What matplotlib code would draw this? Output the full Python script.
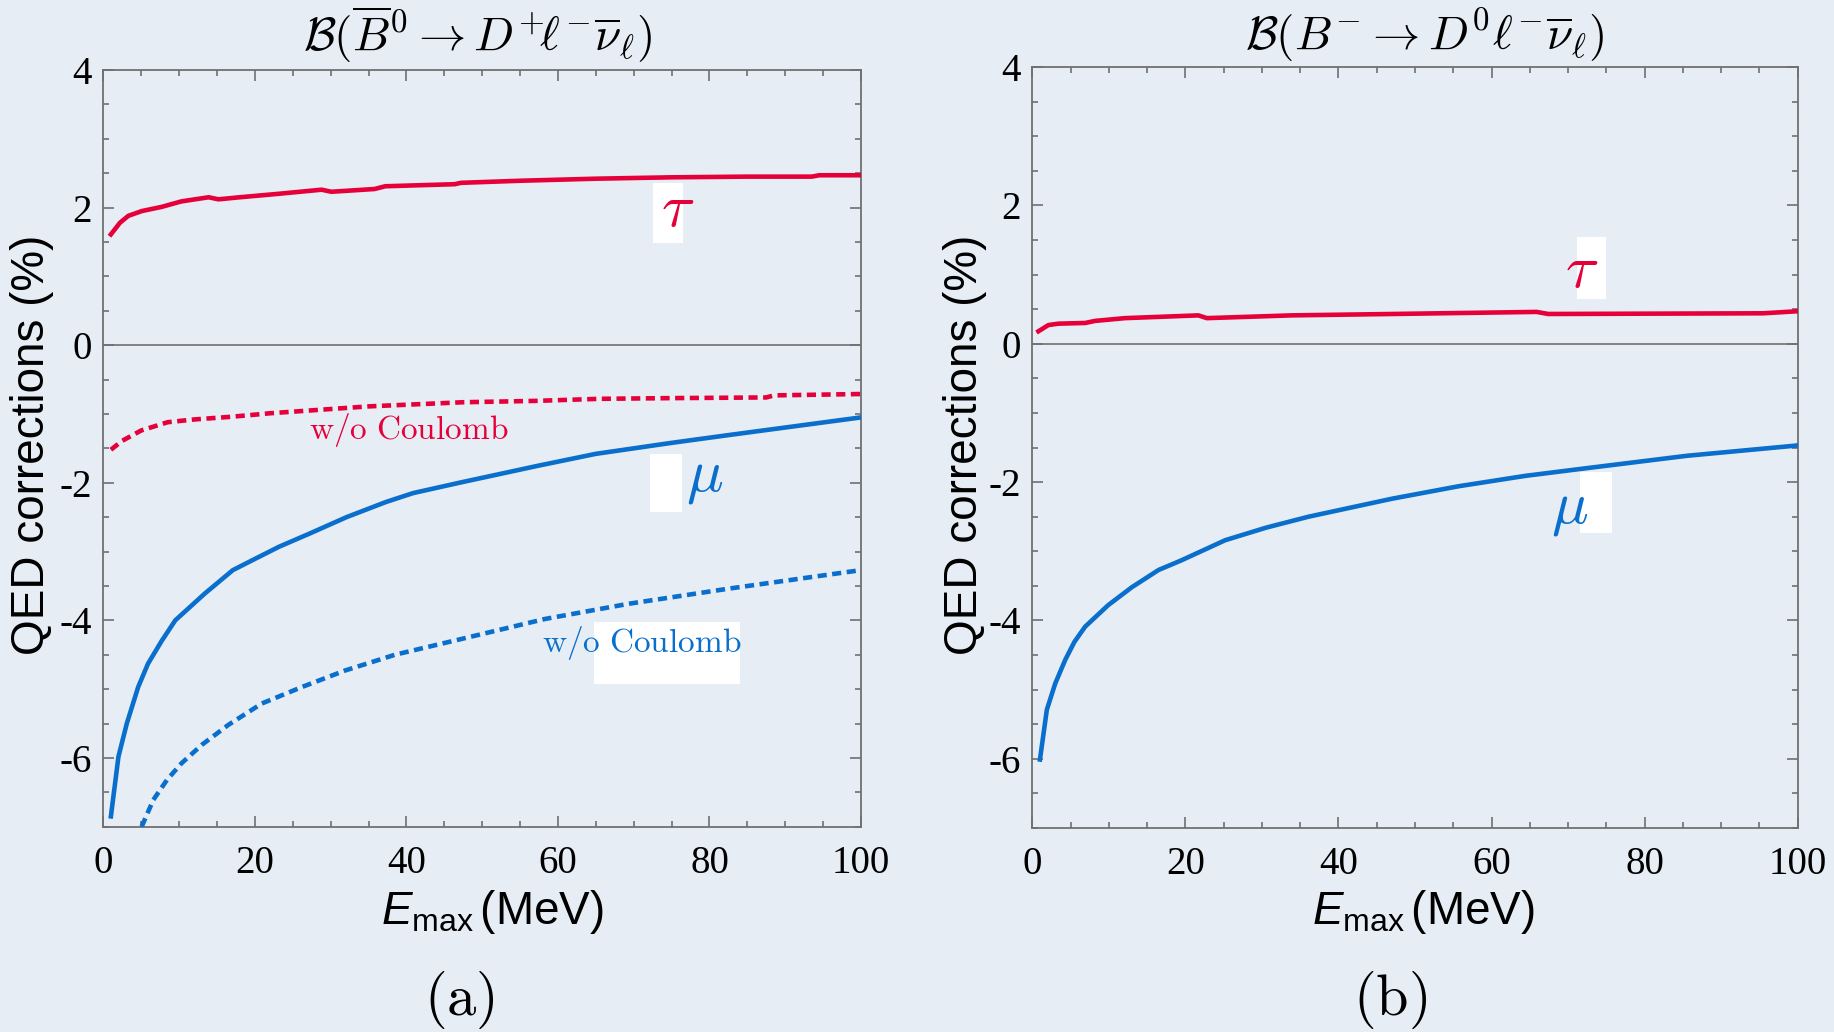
import matplotlib
matplotlib.use("Agg")
import matplotlib.pyplot as plt
from matplotlib.patches import Rectangle
from matplotlib.ticker import MultipleLocator, FuncFormatter

# ---- data ----
# (a) B0bar -> D+ l nu
tau_a_x = [1, 2.2, 3.3, 5.1, 7.7, 10.3, 13.9, 15.2, 18, 23.1, 28.8, 30.1, 35.8, 37.2, 46.4, 47.2, 55, 65, 75, 85, 93.5, 94.5, 100]
tau_a_y = [1.61, 1.78, 1.88, 1.95, 2.01, 2.09, 2.15, 2.12, 2.15, 2.20, 2.26, 2.23, 2.27, 2.31, 2.34, 2.36, 2.39, 2.42, 2.44, 2.45, 2.45, 2.47, 2.47]

tau_a_nc_x = [1, 2.5, 5, 8.5, 12, 17, 22, 27.2, 35, 47.4, 57, 65.5, 74.7, 87.5, 88.5, 100]
tau_a_nc_y = [-1.52, -1.39, -1.24, -1.12, -1.08, -1.04, -0.99, -0.95, -0.89, -0.83, -0.81, -0.78, -0.77, -0.76, -0.73, -0.71]

mu_a_x = [1, 2, 3.1, 4.6, 5.9, 7.7, 9.5, 13.4, 17.1, 19.6, 23.2, 27.2, 32.1, 37.3, 40.9, 47.4, 57.5, 65, 75, 83, 100]
mu_a_y = [-6.85, -5.98, -5.5, -4.97, -4.63, -4.3, -4.0, -3.61, -3.27, -3.13, -2.93, -2.74, -2.5, -2.28, -2.15, -1.99, -1.75, -1.58, -1.42, -1.3, -1.05]

mu_a_nc_x = [5.06, 6.6, 8.4, 10.3, 13.0, 16.5, 20.9, 26.2, 31.9, 38.5, 47.3, 58.3, 69.3, 82.5, 100]
mu_a_nc_y = [-7.0, -6.61, -6.32, -6.08, -5.81, -5.52, -5.21, -4.97, -4.73, -4.5, -4.27, -3.98, -3.76, -3.54, -3.27]

# (b) B- -> D0 l nu
tau_b_x = [0.8, 2.1, 3.4, 6.9, 8.2, 12.1, 21.7, 22.8, 33.9, 47, 65.9, 67.4, 95.5, 100]
tau_b_y = [0.18, 0.27, 0.29, 0.30, 0.33, 0.37, 0.41, 0.37, 0.41, 0.43, 0.46, 0.43, 0.44, 0.47]

mu_b_x = [1.0, 1.9, 3.0, 4.3, 5.5, 6.9, 9.9, 13.0, 16.5, 19.5, 25.2, 30.5, 36.1, 47, 55.7, 64.4, 71.6, 85.5, 100]
mu_b_y = [-6.01, -5.29, -4.91, -4.57, -4.31, -4.09, -3.78, -3.52, -3.27, -3.13, -2.84, -2.66, -2.5, -2.24, -2.06, -1.91, -1.81, -1.62, -1.47]

titles = [r'$\mathcal{B}(\overline{B}^{0} \to D^{+}\!\ell^{-}\overline{\nu}_\ell)$',
          r'$\mathcal{B}(B^{-} \to D^{0}\ell^{-}\overline{\nu}_\ell)$']
panel_tags = [r'$\mathrm{(a)}$', r'$\mathrm{(b)}$']
ylabel = 'QED corrections (%)'
xlabel = r'$E_{\mathrm{max}}\,$(MeV)'

RED = '#e6003a'
BLUE = '#0a6fcc'
BG = '#e6edf5'
GRAY = '#707070'

plt.rcParams['font.family'] = ['Liberation Serif', 'DejaVu Serif']
plt.rcParams['mathtext.fontset'] = 'custom'
plt.rcParams['mathtext.rm'] = 'Liberation Sans'
plt.rcParams['mathtext.it'] = 'Liberation Sans:italic'
plt.rcParams['axes.unicode_minus'] = False
plt.rcParams['axes.formatter.use_mathtext'] = False

fig = plt.figure(figsize=(18.34, 10.32), dpi=100, facecolor=BG)
ax_a = fig.add_axes([0.05633, 0.19893, 0.41314, 0.73324])
ax_b = fig.add_axes([0.56287, 0.19767, 0.41734, 0.73740])

plain = FuncFormatter(lambda v, pos: '%d' % round(v))


def style_axes(ax):
    ax.set_facecolor('none')
    ax.set_xlim(0, 100)
    ax.set_ylim(-7, 4)
    ax.xaxis.set_major_locator(MultipleLocator(20))
    ax.xaxis.set_minor_locator(MultipleLocator(5))
    ax.yaxis.set_major_locator(MultipleLocator(2))
    ax.yaxis.set_minor_locator(MultipleLocator(0.5))
    ax.xaxis.set_major_formatter(plain)
    ax.yaxis.set_major_formatter(plain)
    ax.tick_params(which='both', direction='in', top=True, right=True,
                   color=GRAY, width=1.2)
    ax.tick_params(which='major', length=8, labelsize=28,
                   labelfontfamily='Liberation Serif')
    ax.tick_params(axis='x', which='major', pad=13)
    ax.tick_params(axis='y', which='major', pad=8)
    ax.tick_params(which='minor', length=4.5)
    for sp in ax.spines.values():
        sp.set_color(GRAY)
        sp.set_linewidth(1.3)
    ax.axhline(0, color=GRAY, lw=1.2, zorder=1)


for ax in (ax_a, ax_b):
    style_axes(ax)

lw = 3.3
dash = (0, (2.0, 1.2))

ax_a.plot(tau_a_x, tau_a_y, color=RED, lw=lw, zorder=3)
ax_a.plot(tau_a_nc_x, tau_a_nc_y, color=RED, lw=lw, linestyle=dash,
          dash_capstyle='butt', zorder=3)
ax_a.plot(mu_a_x, mu_a_y, color=BLUE, lw=lw, zorder=3)
ax_a.plot(mu_a_nc_x, mu_a_nc_y, color=BLUE, lw=lw, linestyle=dash,
          dash_capstyle='butt', zorder=3)

ax_b.plot(tau_b_x, tau_b_y, color=RED, lw=lw, zorder=3)
ax_b.plot(mu_b_x, mu_b_y, color=BLUE, lw=lw, zorder=3)

# white label backgrounds (left over from the original's text boxes)
for ax, (x0, y0, w, h) in [(ax_a, (72.6, 1.49, 3.9, 0.87)),
                           (ax_a, (72.1, -2.42, 4.3, 0.84)),
                           (ax_a, (64.7, -4.92, 19.3, 0.89)),
                           (ax_b, (71.1, 0.65, 3.9, 0.89)),
                           (ax_b, (71.6, -2.74, 4.2, 0.89))]:
    ax.add_patch(Rectangle((x0, y0), w, h, facecolor='white',
                           edgecolor='none', zorder=2))

ax_a.text(75.8, 1.95, r'$\tau$', color=RED, fontsize=44, math_fontfamily='cm',
          ha='center', va='center', zorder=4)
ax_a.text(79.4, -1.94, r'$\mu$', color=BLUE, fontsize=44, math_fontfamily='cm',
          ha='center', va='center', zorder=4)
ax_a.text(40.3, -1.24, r'$\mathrm{w/o\ Coulomb}$', color=RED, fontsize=24,
          math_fontfamily='cm', ha='center', va='center', zorder=4)
ax_a.text(71.1, -4.33, r'$\mathrm{w/o\ Coulomb}$', color=BLUE, fontsize=24,
          math_fontfamily='cm', ha='center', va='center', zorder=4)
ax_b.text(71.8, 1.03, r'$\tau$', color=RED, fontsize=44, math_fontfamily='cm',
          ha='center', va='center', zorder=4)
ax_b.text(70.2, -2.40, r'$\mu$', color=BLUE, fontsize=44, math_fontfamily='cm',
          ha='center', va='center', zorder=4)

# titles, axis labels, panel tags
for xc, t in zip([0.2606, 0.7768], titles):
    fig.text(xc, 0.966, t, fontsize=34, math_fontfamily='cm',
             ha='center', va='center')
for xc in [0.0172, 0.5262]:
    fig.text(xc, 0.5693, ylabel, fontsize=33, family='Liberation Sans',
             rotation=90, ha='center', va='center')
for xc in [0.2683, 0.7759]:
    fig.text(xc, 0.1159, xlabel, fontsize=33, family='Liberation Sans',
             ha='center', va='center')
for xc, t in zip([0.2507, 0.7577], panel_tags):
    fig.text(xc, 0.031, t, fontsize=42, math_fontfamily='cm',
             ha='center', va='center')

fig.savefig('out.png', dpi=100, facecolor=BG)
